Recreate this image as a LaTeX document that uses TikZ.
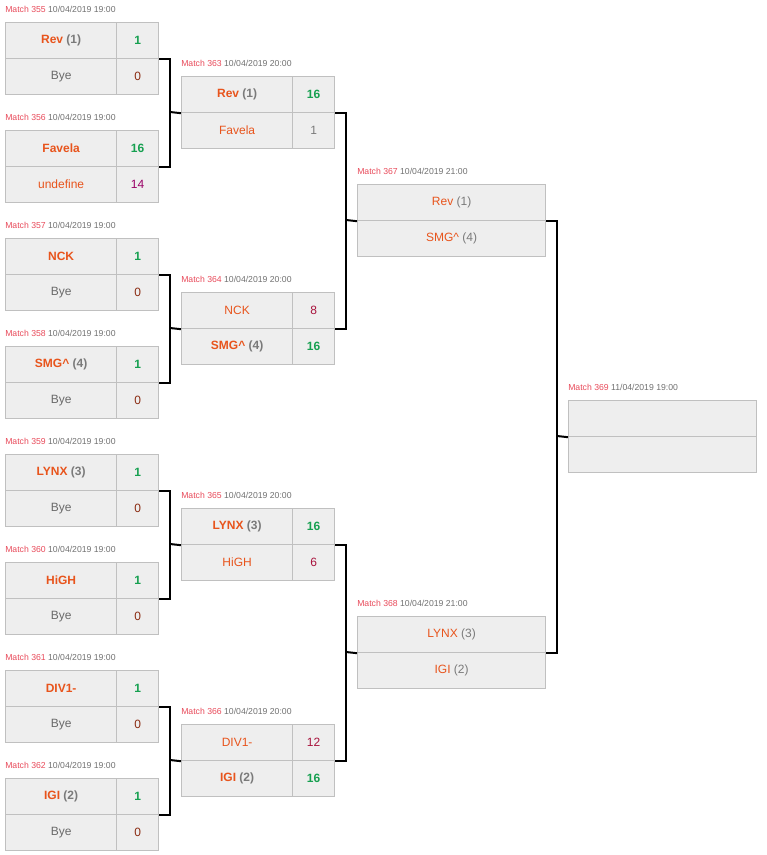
\documentclass[tikz,border=0pt]{standalone}
\usepackage{fontspec}
\setmainfont{Liberation Sans}
\usepackage{xcolor}
\usetikzlibrary{positioning,calc}

\definecolor{teamc}{HTML}{E8541C}
\definecolor{seedc}{HTML}{7A7A7A}
\definecolor{winc}{HTML}{16A050}
\definecolor{losec}{HTML}{A8123C}
\definecolor{byec}{HTML}{6A6A6A}
\definecolor{zeroc}{HTML}{8A2A10}
\definecolor{matchc}{HTML}{E84A5A}
\definecolor{datec}{HTML}{707070}
\definecolor{cellc}{HTML}{EEEEEE}
\definecolor{linec}{HTML}{C0C0C0}

\tikzset{
  cell/.style={draw=linec, fill=cellc, line width=0.9pt, rectangle, minimum height=27pt, inner sep=0pt, anchor=north west, font=\fontsize{9}{10}\selectfont},
  namecell/.style={cell, minimum width=83.25pt},
  scorecell/.style={cell, minimum width=31.5pt},
  widecell/.style={cell, minimum width=141pt},
  mlabel/.style={anchor=west, inner sep=0pt, font=\fontsize{6.5}{7}\selectfont},
  link/.style={line width=1.5pt, black}
}

% match with score column: id, x, y, date, team1, score1, team2, score2
\newcommand\smatch[8]{%
  \node [mlabel] (l#1) at (#2,#3-13) {\textcolor{matchc}{Match #1} \textcolor{datec}{#4}};
  \node [namecell] (t#1a) at (#2,#3) {#5};
  \node [scorecell] (s#1a) at (#2+111,#3) {#6};
  \node [namecell] (t#1b) at (#2,#3+36) {#7};
  \node [scorecell] (s#1b) at (#2+111,#3+36) {#8};
}
% match without score column
\newcommand\wmatch[6]{%
  \node [mlabel] (l#1) at (#2,#3-13) {\textcolor{matchc}{Match #1} \textcolor{datec}{#4}};
  \node [widecell] (t#1a) at (#2,#3) {#5};
  \node [widecell] (t#1b) at (#2,#3+36) {#6};
}
\newcommand\tm[2]{\textbf{\textcolor{teamc}{#1}}\ifx&#2&\else\ \textbf{\textcolor{seedc}{(#2)}}\fi}
\newcommand\tl[2]{\textcolor{teamc}{#1}\ifx&#2&\else\ \textcolor{seedc}{(#2)}\fi}
\newcommand\bye{\textcolor{byec}{Bye}}
\newcommand\win[1]{\textbf{\textcolor{winc}{#1}}}
\newcommand\lose[1]{\textcolor{losec}{#1}}
\newcommand\zero{\textcolor{zeroc}{0}}

\begin{document}
\begin{tikzpicture}[x=0.75pt,y=-0.75pt]
\useasboundingbox (0,0) rectangle (766,855);

% round 1
\smatch{355}{5}{22}{10/04/2019 19:00}{\tm{Rev}{1}}{\win{1}}{\bye}{\zero}
\smatch{356}{5}{130}{10/04/2019 19:00}{\tm{Favela}{}}{\win{16}}{\tl{undefine}{}}{\textcolor{violet!80!red}{14}}
\smatch{357}{5}{238}{10/04/2019 19:00}{\tm{NCK}{}}{\win{1}}{\bye}{\zero}
\smatch{358}{5}{346}{10/04/2019 19:00}{\tm{SMG\textasciicircum}{4}}{\win{1}}{\bye}{\zero}
\smatch{359}{5}{454}{10/04/2019 19:00}{\tm{LYNX}{3}}{\win{1}}{\bye}{\zero}
\smatch{360}{5}{562}{10/04/2019 19:00}{\tm{HiGH}{}}{\win{1}}{\bye}{\zero}
\smatch{361}{5}{670}{10/04/2019 19:00}{\tm{DIV1-}{}}{\win{1}}{\bye}{\zero}
\smatch{362}{5}{778}{10/04/2019 19:00}{\tm{IGI}{2}}{\win{1}}{\bye}{\zero}

% round 2
\smatch{363}{181}{76}{10/04/2019 20:00}{\tm{Rev}{1}}{\win{16}}{\tl{Favela}{}}{\textcolor{seedc}{1}}
\smatch{364}{181}{292}{10/04/2019 20:00}{\tl{NCK}{}}{\lose{8}}{\tm{SMG\textasciicircum}{4}}{\win{16}}
\smatch{365}{181}{508}{10/04/2019 20:00}{\tm{LYNX}{3}}{\win{16}}{\tl{HiGH}{}}{\lose{6}}
\smatch{366}{181}{724}{10/04/2019 20:00}{\tl{DIV1-}{}}{\lose{12}}{\tm{IGI}{2}}{\win{16}}

% round 3 and final
\wmatch{367}{357}{184}{10/04/2019 21:00}{\tl{Rev}{1}}{\tl{SMG\textasciicircum}{4}}
\wmatch{368}{357}{616}{10/04/2019 21:00}{\tl{LYNX}{3}}{\tl{IGI}{2}}
\wmatch{369}{568}{400}{11/04/2019 19:00}{}{}

% joints
\coordinate (j363) at (170,112);
\coordinate (j364) at (170,328);
\coordinate (j365) at (170,544);
\coordinate (j366) at (170,760);
\coordinate (j367) at (346,220);
\coordinate (j368) at (346,652);
\coordinate (j369) at (557,436);

% connectors
\foreach \a/\b/\j in {355/356/363, 357/358/364, 359/360/365, 361/362/366}{
  \draw [link] (s\a a.south east) -- (s\a a.south east -| j\j) |- (s\b a.south east);
  \draw [link] (j\j) -- (t\j a.south west);
}
\foreach \a/\b/\j in {363/364/367, 365/366/368}{
  \draw [link] (s\a a.south east) -- (s\a a.south east -| j\j) |- (s\b a.south east);
  \draw [link] (j\j) -- (t\j a.south west);
}
\draw [link] (t367a.south east) -- (t367a.south east -| j369) |- (t368a.south east);
\draw [link] (j369) -- (t369a.south west);

\end{tikzpicture}
\end{document}
